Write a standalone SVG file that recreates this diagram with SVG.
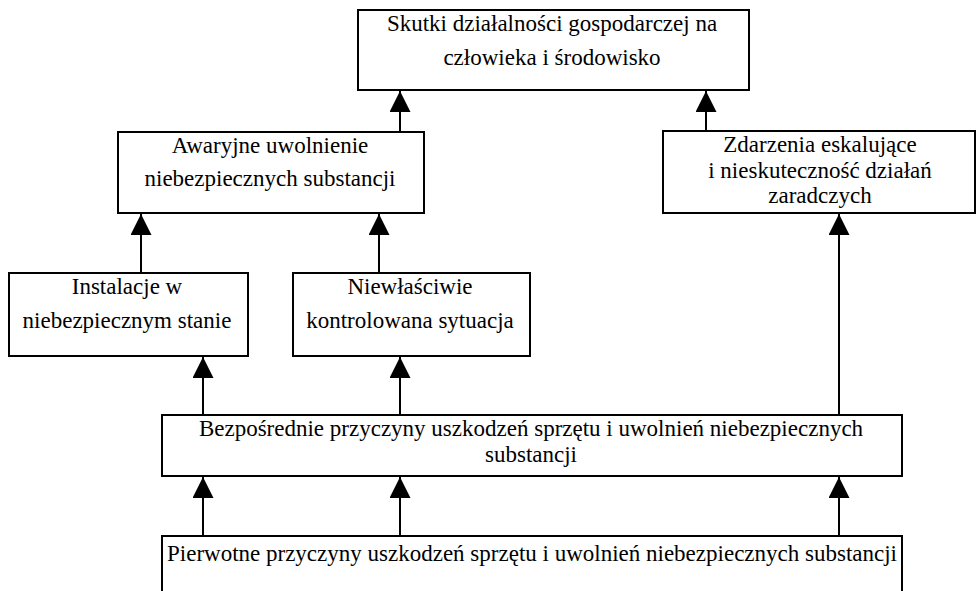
<svg xmlns="http://www.w3.org/2000/svg" width="977" height="591" viewBox="0 0 977 591">
<defs>
<marker id="ah" markerUnits="userSpaceOnUse" markerWidth="22" markerHeight="22" viewBox="0 0 22 22" refX="21" refY="10.5" orient="auto">
<path d="M0,0 L21,10.5 L0,21 z" fill="#000"/>
</marker>
<style>
.box{fill:#fff;stroke:#000;stroke-width:2}
.t{font-family:"Liberation Serif","Times New Roman",serif;font-size:23px;fill:#000;text-anchor:middle}
.c{stroke:#000;stroke-width:2;fill:none;marker-end:url(#ah)}
</style>
</defs>
<rect width="977" height="591" fill="#fff"/>
<g id="n-skutki">
<rect class="box" x="358" y="10" width="391" height="80"/>
<text class="t" x="552" y="31">Skutki działalności gospodarczej na</text>
<text class="t" x="552" y="65">człowieka i środowisko</text>
</g>
<g id="n-awaryjne">
<rect class="box" x="118" y="132" width="306" height="81"/>
<text class="t" x="270" y="153">Awaryjne uwolnienie</text>
<text class="t" x="270" y="186">niebezpiecznych substancji</text>
</g>
<g id="n-zdarzenia">
<rect class="box" x="663" y="131" width="312" height="82"/>
<text class="t" x="820" y="152">Zdarzenia eskalujące</text>
<text class="t" x="820" y="177.5">i nieskuteczność działań</text>
<text class="t" x="820" y="203">zaradczych</text>
</g>
<g id="n-instalacje">
<rect class="box" x="9" y="273" width="239" height="83"/>
<text class="t" x="127" y="294">Instalacje w</text>
<text class="t" x="127" y="328">niebezpiecznym stanie</text>
</g>
<g id="n-niewlasciwie">
<rect class="box" x="293" y="273" width="237" height="83"/>
<text class="t" x="410" y="294">Niewłaściwie</text>
<text class="t" x="410" y="328">kontrolowana sytuacja</text>
</g>
<g id="n-bezposrednie">
<rect class="box" x="162" y="415" width="740" height="61"/>
<text class="t" x="531" y="436">Bezpośrednie przyczyny uszkodzeń sprzętu i uwolnień niebezpiecznych</text>
<text class="t" x="531" y="462">substancji</text>
</g>
<g id="n-pierwotne">
<rect class="box" x="162" y="536" width="740" height="70"/>
<text class="t" x="167" y="561" style="text-anchor:start" textLength="730" lengthAdjust="spacingAndGlyphs">Pierwotne przyczyny uszkodzeń sprzętu i uwolnień niebezpiecznych substancji</text>
</g>
<g id="connectors">
<path class="c" d="M400,132 V91"/>
<path class="c" d="M706,131 V91"/>
<path class="c" d="M141,273 V214"/>
<path class="c" d="M379,273 V214"/>
<path class="c" d="M203,415 V357"/>
<path class="c" d="M400,415 V357"/>
<path class="c" d="M839,415 V214"/>
<path class="c" d="M203,536 V477"/>
<path class="c" d="M400,536 V477"/>
<path class="c" d="M839,536 V477"/>
</g>
</svg>
